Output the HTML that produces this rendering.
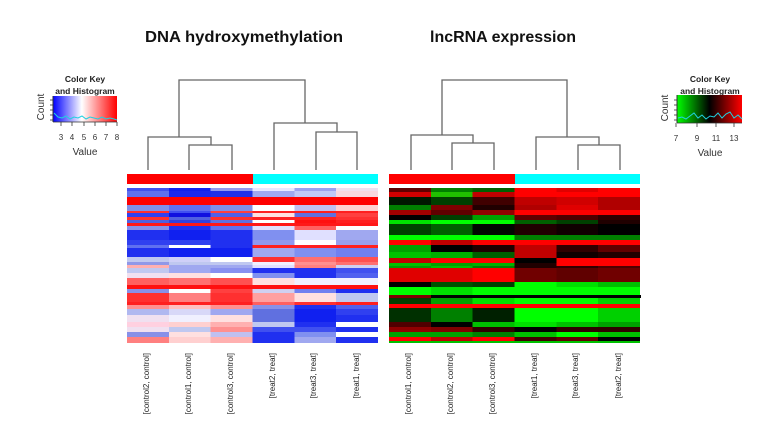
<!DOCTYPE html>
<html><head><meta charset="utf-8"><style>
html,body{margin:0;padding:0;background:#fff;}
svg{display:block;}
text{font-family:"Liberation Sans",Arial,sans-serif;}
</style></head><body>
<svg width="757" height="443" viewBox="0 0 757 443" xmlns="http://www.w3.org/2000/svg">
<defs>
<linearGradient id="bwr" x1="0" x2="1" y1="0" y2="0">
<stop offset="0" stop-color="#0000ff"/><stop offset="0.45" stop-color="#ffffff"/><stop offset="1" stop-color="#ff0000"/>
</linearGradient>
<linearGradient id="gkr" x1="0" x2="1" y1="0" y2="0">
<stop offset="0" stop-color="#00ff00"/><stop offset="0.5" stop-color="#000000"/><stop offset="1" stop-color="#ff0000"/>
</linearGradient>
</defs>
<rect width="757" height="443" fill="#fff"/>

<!-- Titles -->
<text x="145" y="42" font-size="16" font-weight="bold" fill="#111" textLength="198" lengthAdjust="spacingAndGlyphs">DNA hydroxymethylation</text>
<text x="430" y="42" font-size="16" font-weight="bold" fill="#111" textLength="146" lengthAdjust="spacingAndGlyphs">lncRNA expression</text>

<!-- Left color key -->
<text x="85" y="82" font-size="8.5" font-weight="bold" text-anchor="middle" fill="#222">Color Key</text>
<text x="85" y="94" font-size="8.5" font-weight="bold" text-anchor="middle" fill="#222">and Histogram</text>
<rect x="53" y="96" width="64" height="26" fill="url(#bwr)"/>
<polyline points="54,113 58,117 62,118 66,116 70,119 74,117 78,118 82,116 86,119 90,117 94,118 98,119 102,117 106,119 110,118 114,119 117,120" fill="none" stroke="#20d0e0" stroke-width="1"/>
<line x1="53" y1="96" x2="53" y2="122" stroke="#333" stroke-width="1"/>
<g stroke="#333" stroke-width="0.8">
<line x1="50" y1="100" x2="53" y2="100"/><line x1="50" y1="105" x2="53" y2="105"/><line x1="50" y1="110" x2="53" y2="110"/><line x1="50" y1="115" x2="53" y2="115"/><line x1="50" y1="120" x2="53" y2="120"/>
<line x1="61" y1="122" x2="61" y2="126"/><line x1="72" y1="122" x2="72" y2="126"/><line x1="84" y1="122" x2="84" y2="126"/><line x1="95" y1="122" x2="95" y2="126"/><line x1="106" y1="122" x2="106" y2="126"/><line x1="117" y1="122" x2="117" y2="126"/>
<line x1="53" y1="122" x2="117" y2="122"/>
</g>
<text transform="translate(44,107) rotate(-90)" font-size="10" text-anchor="middle" fill="#333">Count</text>
<g font-size="8" fill="#333" text-anchor="middle">
<text x="61" y="140">3</text><text x="72" y="140">4</text><text x="84" y="140">5</text><text x="95" y="140">6</text><text x="106" y="140">7</text><text x="117" y="140">8</text>
</g>
<text x="85" y="155" font-size="10" text-anchor="middle" fill="#333">Value</text>

<!-- Right color key -->
<text x="710" y="82" font-size="8.5" font-weight="bold" text-anchor="middle" fill="#222">Color Key</text>
<text x="710" y="94" font-size="8.5" font-weight="bold" text-anchor="middle" fill="#222">and Histogram</text>
<rect x="677" y="95" width="65" height="28" fill="url(#gkr)"/>
<polyline points="678,118 682,117 686,119 690,116 694,113 698,118 702,115 706,119 710,116 714,117 718,113 722,118 726,114 730,112 734,118 738,115 742,119" fill="none" stroke="#20d0e0" stroke-width="1"/>
<line x1="677" y1="95" x2="677" y2="123" stroke="#333" stroke-width="1"/>
<g stroke="#333" stroke-width="0.8">
<line x1="674" y1="100" x2="677" y2="100"/><line x1="674" y1="105" x2="677" y2="105"/><line x1="674" y1="110" x2="677" y2="110"/><line x1="674" y1="115" x2="677" y2="115"/><line x1="674" y1="120" x2="677" y2="120"/>
<line x1="677" y1="123" x2="742" y2="123"/>
<line x1="676" y1="123" x2="676" y2="127"/><line x1="697" y1="123" x2="697" y2="127"/><line x1="716" y1="123" x2="716" y2="127"/><line x1="734" y1="123" x2="734" y2="127"/>
</g>
<text transform="translate(668,108) rotate(-90)" font-size="10" text-anchor="middle" fill="#333">Count</text>
<g font-size="8" fill="#333" text-anchor="middle">
<text x="676" y="141">7</text><text x="697" y="141">9</text><text x="716" y="141">11</text><text x="734" y="141">13</text>
</g>
<text x="710" y="156" font-size="10" text-anchor="middle" fill="#333">Value</text>

<!-- Left dendrogram -->
<g fill="none" stroke="#666" stroke-width="1.3">
<polyline points="179,137 179,80 305,80 305,123"/>
<polyline points="148,170 148,137 211,137 211,145"/>
<polyline points="189,170 189,145 232,145 232,170"/>
<polyline points="274,170 274,123 337,123 337,132"/>
<polyline points="316,170 316,132 357,132 357,170"/>
</g>
<rect x="127" y="174" width="126" height="10" fill="#ff0000"/>
<rect x="253" y="174" width="125" height="10" fill="#00ffff"/>

<!-- Right dendrogram -->
<g fill="none" stroke="#666" stroke-width="1.3">
<polyline points="442,135 442,80 567,80 567,137"/>
<polyline points="411,170 411,135 473,135 473,143"/>
<polyline points="452,170 452,143 494,143 494,170"/>
<polyline points="536,170 536,137 599,137 599,145"/>
<polyline points="578,170 578,145 620,145 620,170"/>
</g>
<rect x="389" y="174" width="126" height="10" fill="#ff0000"/>
<rect x="515" y="174" width="125" height="10" fill="#00ffff"/>

<!-- Left heatmap -->
<g shape-rendering="crispEdges">
<g transform="translate(0,188)"><rect x="127" width="42" height="3" fill="#4050f0"/><rect x="168.8" width="42" height="3" fill="#1020f0"/><rect x="210.7" width="42" height="3" fill="#9098f0"/><rect x="252.5" width="42" height="3" fill="#e8e8ff"/><rect x="294.3" width="42" height="3" fill="#9aa0f0"/><rect x="336.2" width="42" height="3" fill="#f0e0f0"/></g>
<g transform="translate(0,191)"><rect x="127" width="42" height="6" fill="#6070f0"/><rect x="168.8" width="42" height="6" fill="#1a28f0"/><rect x="210.7" width="42" height="6" fill="#2030e8"/><rect x="252.5" width="42" height="6" fill="#a0a8f0"/><rect x="294.3" width="42" height="6" fill="#c0c8f8"/><rect x="336.2" width="42" height="6" fill="#f8d8e0"/></g>
<rect x="127" y="197" width="251" height="8" fill="#ff0000"/>
<g transform="translate(0,205)"><rect x="127" width="42" height="6" fill="#8090e8"/><rect x="168.8" width="42" height="6" fill="#6070f0"/><rect x="210.7" width="42" height="6" fill="#8090e8"/><rect x="252.5" width="42" height="6" fill="#ffffff"/><rect x="294.3" width="42" height="6" fill="#c0c0f0"/><rect x="336.2" width="42" height="6" fill="#ffd0d0"/></g>
<g transform="translate(0,211)"><rect x="127" width="42" height="2" fill="#ff3030"/><rect x="168.8" width="42" height="2" fill="#4050f0"/><rect x="210.7" width="42" height="2" fill="#ff4040"/><rect x="252.5" width="42" height="2" fill="#ff2020"/><rect x="294.3" width="42" height="2" fill="#ff2020"/><rect x="336.2" width="42" height="2" fill="#ff2020"/></g>
<g transform="translate(0,213)"><rect x="127" width="42" height="4" fill="#3040f0"/><rect x="168.8" width="42" height="4" fill="#1010e0"/><rect x="210.7" width="42" height="4" fill="#5060e8"/><rect x="252.5" width="42" height="4" fill="#ffe0e0"/><rect x="294.3" width="42" height="4" fill="#6070e0"/><rect x="336.2" width="42" height="4" fill="#ff4040"/></g>
<g transform="translate(0,217)"><rect x="127" width="42" height="3" fill="#ff3030"/><rect x="168.8" width="42" height="3" fill="#5060e0"/><rect x="210.7" width="42" height="3" fill="#ff3030"/><rect x="252.5" width="42" height="3" fill="#ff2020"/><rect x="294.3" width="42" height="3" fill="#ff2020"/><rect x="336.2" width="42" height="3" fill="#ff3030"/></g>
<g transform="translate(0,220)"><rect x="127" width="42" height="3" fill="#5060e0"/><rect x="168.8" width="42" height="3" fill="#3040e0"/><rect x="210.7" width="42" height="3" fill="#6070e0"/><rect x="252.5" width="42" height="3" fill="#ffffff"/><rect x="294.3" width="42" height="3" fill="#ff1010"/><rect x="336.2" width="42" height="3" fill="#ff2020"/></g>
<rect x="127" y="223" width="251" height="3" fill="#ff1818"/>
<g transform="translate(0,226)"><rect x="127" width="42" height="4" fill="#8890e8"/><rect x="168.8" width="42" height="4" fill="#2030f0"/><rect x="210.7" width="42" height="4" fill="#6070f0"/><rect x="252.5" width="42" height="4" fill="#e0e0ff"/><rect x="294.3" width="42" height="4" fill="#ff6060"/><rect x="336.2" width="42" height="4" fill="#ffffff"/></g>
<g transform="translate(0,230)"><rect x="127" width="42" height="10" fill="#2030f0"/><rect x="168.8" width="42" height="10" fill="#1020f0"/><rect x="210.7" width="42" height="10" fill="#2030f0"/><rect x="252.5" width="42" height="10" fill="#8090f0"/><rect x="294.3" width="42" height="10" fill="#e0e0ff"/><rect x="336.2" width="42" height="10" fill="#a0a8f0"/></g>
<g transform="translate(0,240)"><rect x="127" width="42" height="5" fill="#3040f0"/><rect x="168.8" width="42" height="5" fill="#3040f0"/><rect x="210.7" width="42" height="5" fill="#2030f0"/><rect x="252.5" width="42" height="5" fill="#9098f0"/><rect x="294.3" width="42" height="5" fill="#ffffff"/><rect x="336.2" width="42" height="5" fill="#98a0f0"/></g>
<g transform="translate(0,245)"><rect x="127" width="42" height="3" fill="#6070f0"/><rect x="168.8" width="42" height="3" fill="#ffffff"/><rect x="210.7" width="42" height="3" fill="#2030f0"/><rect x="252.5" width="42" height="3" fill="#ff2020"/><rect x="294.3" width="42" height="3" fill="#ff2020"/><rect x="336.2" width="42" height="3" fill="#ff2020"/></g>
<g transform="translate(0,248)"><rect x="127" width="42" height="9" fill="#2030f0"/><rect x="168.8" width="42" height="9" fill="#1020f0"/><rect x="210.7" width="42" height="9" fill="#1020f0"/><rect x="252.5" width="42" height="9" fill="#a0a8f0"/><rect x="294.3" width="42" height="9" fill="#8090f0"/><rect x="336.2" width="42" height="9" fill="#7080f0"/></g>
<g transform="translate(0,257)"><rect x="127" width="42" height="5" fill="#c0c8f0"/><rect x="168.8" width="42" height="5" fill="#d0d0f8"/><rect x="210.7" width="42" height="5" fill="#ffffff"/><rect x="252.5" width="42" height="5" fill="#ff3030"/><rect x="294.3" width="42" height="5" fill="#ff7070"/><rect x="336.2" width="42" height="5" fill="#ff5050"/></g>
<g transform="translate(0,262)"><rect x="127" width="42" height="3" fill="#9098e8"/><rect x="168.8" width="42" height="3" fill="#c0c8f0"/><rect x="210.7" width="42" height="3" fill="#c0c8f0"/><rect x="252.5" width="42" height="3" fill="#f0f0ff"/><rect x="294.3" width="42" height="3" fill="#ff9090"/><rect x="336.2" width="42" height="3" fill="#ff7070"/></g>
<g transform="translate(0,265)"><rect x="127" width="42" height="3" fill="#ffb0b0"/><rect x="168.8" width="42" height="3" fill="#a0a8f0"/><rect x="210.7" width="42" height="3" fill="#a0a8f0"/><rect x="252.5" width="42" height="3" fill="#e0e0ff"/><rect x="294.3" width="42" height="3" fill="#ff8080"/><rect x="336.2" width="42" height="3" fill="#d0d0f0"/></g>
<g transform="translate(0,268)"><rect x="127" width="42" height="5" fill="#c0c8f0"/><rect x="168.8" width="42" height="5" fill="#a0a8f0"/><rect x="210.7" width="42" height="5" fill="#8890f0"/><rect x="252.5" width="42" height="5" fill="#2030f0"/><rect x="294.3" width="42" height="5" fill="#2030f0"/><rect x="336.2" width="42" height="5" fill="#4050f0"/></g>
<g transform="translate(0,273)"><rect x="127" width="42" height="5" fill="#f0e0f0"/><rect x="168.8" width="42" height="5" fill="#ffe0e0"/><rect x="210.7" width="42" height="5" fill="#ffffff"/><rect x="252.5" width="42" height="5" fill="#8090f0"/><rect x="294.3" width="42" height="5" fill="#2030f0"/><rect x="336.2" width="42" height="5" fill="#5060f0"/></g>
<g transform="translate(0,278)"><rect x="127" width="42" height="7" fill="#ff6060"/><rect x="168.8" width="42" height="7" fill="#ff7070"/><rect x="210.7" width="42" height="7" fill="#ff5050"/><rect x="252.5" width="42" height="7" fill="#ffe0e0"/><rect x="294.3" width="42" height="7" fill="#f0f0ff"/><rect x="336.2" width="42" height="7" fill="#f0f0ff"/></g>
<rect x="127" y="285" width="251" height="4" fill="#ff1010"/>
<g transform="translate(0,289)"><rect x="127" width="42" height="4" fill="#8890e8"/><rect x="168.8" width="42" height="4" fill="#ffffff"/><rect x="210.7" width="42" height="4" fill="#ff4040"/><rect x="252.5" width="42" height="4" fill="#d0d0f0"/><rect x="294.3" width="42" height="4" fill="#7080f0"/><rect x="336.2" width="42" height="4" fill="#2030f0"/></g>
<g transform="translate(0,293)"><rect x="127" width="42" height="9" fill="#ff3030"/><rect x="168.8" width="42" height="9" fill="#ff8080"/><rect x="210.7" width="42" height="9" fill="#ff3030"/><rect x="252.5" width="42" height="9" fill="#ffa0a0"/><rect x="294.3" width="42" height="9" fill="#ffe0e0"/><rect x="336.2" width="42" height="9" fill="#c0c8f0"/></g>
<g transform="translate(0,302)"><rect x="127" width="42" height="3" fill="#ff2020"/><rect x="168.8" width="42" height="3" fill="#ff2020"/><rect x="210.7" width="42" height="3" fill="#ff2020"/><rect x="252.5" width="42" height="3" fill="#ff6060"/><rect x="294.3" width="42" height="3" fill="#ff3030"/><rect x="336.2" width="42" height="3" fill="#ff2020"/></g>
<g transform="translate(0,305)"><rect x="127" width="42" height="4" fill="#ff9090"/><rect x="168.8" width="42" height="4" fill="#ffc0c0"/><rect x="210.7" width="42" height="4" fill="#ff9090"/><rect x="252.5" width="42" height="4" fill="#8890e8"/><rect x="294.3" width="42" height="4" fill="#2030f0"/><rect x="336.2" width="42" height="4" fill="#5060f0"/></g>
<g transform="translate(0,309)"><rect x="127" width="42" height="6" fill="#b0b8f0"/><rect x="168.8" width="42" height="6" fill="#d8d8f8"/><rect x="210.7" width="42" height="6" fill="#a0a8f0"/><rect x="252.5" width="42" height="6" fill="#6070e0"/><rect x="294.3" width="42" height="6" fill="#1020f0"/><rect x="336.2" width="42" height="6" fill="#3040f0"/></g>
<g transform="translate(0,315)"><rect x="127" width="42" height="7" fill="#f0e0f0"/><rect x="168.8" width="42" height="7" fill="#f0f0ff"/><rect x="210.7" width="42" height="7" fill="#ffe0e0"/><rect x="252.5" width="42" height="7" fill="#6070e0"/><rect x="294.3" width="42" height="7" fill="#1020f0"/><rect x="336.2" width="42" height="7" fill="#2030f0"/></g>
<g transform="translate(0,322)"><rect x="127" width="42" height="5" fill="#ffd0e0"/><rect x="168.8" width="42" height="5" fill="#ffd0d0"/><rect x="210.7" width="42" height="5" fill="#ffb0b0"/><rect x="252.5" width="42" height="5" fill="#c0c8f0"/><rect x="294.3" width="42" height="5" fill="#2030f0"/><rect x="336.2" width="42" height="5" fill="#ffffff"/></g>
<g transform="translate(0,327)"><rect x="127" width="42" height="5" fill="#f0e0f0"/><rect x="168.8" width="42" height="5" fill="#c0c8f0"/><rect x="210.7" width="42" height="5" fill="#ff9090"/><rect x="252.5" width="42" height="5" fill="#4050f0"/><rect x="294.3" width="42" height="5" fill="#4050f0"/><rect x="336.2" width="42" height="5" fill="#2030f0"/></g>
<g transform="translate(0,332)"><rect x="127" width="42" height="5" fill="#8890e8"/><rect x="168.8" width="42" height="5" fill="#ffe0e0"/><rect x="210.7" width="42" height="5" fill="#c0c0f0"/><rect x="252.5" width="42" height="5" fill="#2030f0"/><rect x="294.3" width="42" height="5" fill="#8090f0"/><rect x="336.2" width="42" height="5" fill="#ffffff"/></g>
<g transform="translate(0,337)"><rect x="127" width="42" height="6" fill="#ff8080"/><rect x="168.8" width="42" height="6" fill="#ffd0d0"/><rect x="210.7" width="42" height="6" fill="#ffb0b0"/><rect x="252.5" width="42" height="6" fill="#2030f0"/><rect x="294.3" width="42" height="6" fill="#a0a8f0"/><rect x="336.2" width="41.8" height="6" fill="#2030f0"/></g>
</g>

<!-- Right heatmap -->
<g shape-rendering="crispEdges">
<g transform="translate(0,188)"><rect x="389" width="42" height="4" fill="#600000"/><rect x="430.8" width="42" height="4" fill="#008000"/><rect x="472.7" width="42" height="4" fill="#006000"/><rect x="514.5" width="42" height="4" fill="#ff0000"/><rect x="556.3" width="42" height="4" fill="#e00000"/><rect x="598.2" width="42" height="4" fill="#ff0000"/></g>
<g transform="translate(0,192)"><rect x="389" width="42" height="5" fill="#d00000"/><rect x="430.8" width="42" height="5" fill="#20c000"/><rect x="472.7" width="42" height="5" fill="#c00000"/><rect x="514.5" width="42" height="5" fill="#ff0000"/><rect x="556.3" width="42" height="5" fill="#ff0000"/><rect x="598.2" width="42" height="5" fill="#ff0000"/></g>
<g transform="translate(0,197)"><rect x="389" width="42" height="8" fill="#001800"/><rect x="430.8" width="42" height="8" fill="#004000"/><rect x="472.7" width="42" height="8" fill="#400000"/><rect x="514.5" width="42" height="8" fill="#c00000"/><rect x="556.3" width="42" height="8" fill="#d00000"/><rect x="598.2" width="42" height="8" fill="#b00000"/></g>
<g transform="translate(0,205)"><rect x="389" width="42" height="5" fill="#008000"/><rect x="430.8" width="42" height="5" fill="#800000"/><rect x="472.7" width="42" height="5" fill="#200000"/><rect x="514.5" width="42" height="5" fill="#b00000"/><rect x="556.3" width="42" height="5" fill="#e00000"/><rect x="598.2" width="42" height="5" fill="#b00000"/></g>
<g transform="translate(0,210)"><rect x="389" width="42" height="5" fill="#a00000"/><rect x="430.8" width="42" height="5" fill="#600000"/><rect x="472.7" width="42" height="5" fill="#900000"/><rect x="514.5" width="42" height="5" fill="#ff0000"/><rect x="556.3" width="42" height="5" fill="#ff0000"/><rect x="598.2" width="42" height="5" fill="#ff0000"/></g>
<g transform="translate(0,215)"><rect x="389" width="42" height="5" fill="#000000"/><rect x="430.8" width="42" height="5" fill="#004000"/><rect x="472.7" width="42" height="5" fill="#00a000"/><rect x="514.5" width="42" height="5" fill="#600000"/><rect x="556.3" width="42" height="5" fill="#500000"/><rect x="598.2" width="42" height="5" fill="#300000"/></g>
<g transform="translate(0,220)"><rect x="389" width="42" height="4" fill="#00e000"/><rect x="430.8" width="42" height="4" fill="#00ff00"/><rect x="472.7" width="42" height="4" fill="#00ff00"/><rect x="514.5" width="42" height="4" fill="#006000"/><rect x="556.3" width="42" height="4" fill="#004000"/><rect x="598.2" width="42" height="4" fill="#200000"/></g>
<g transform="translate(0,224)"><rect x="389" width="42" height="11" fill="#004000"/><rect x="430.8" width="42" height="11" fill="#006000"/><rect x="472.7" width="42" height="11" fill="#000800"/><rect x="514.5" width="42" height="11" fill="#200000"/><rect x="556.3" width="42" height="11" fill="#100000"/><rect x="598.2" width="42" height="11" fill="#000000"/></g>
<g transform="translate(0,235)"><rect x="389" width="42" height="5" fill="#00ff00"/><rect x="430.8" width="42" height="5" fill="#00ff00"/><rect x="472.7" width="42" height="5" fill="#00ff00"/><rect x="514.5" width="42" height="5" fill="#008000"/><rect x="556.3" width="42" height="5" fill="#008000"/><rect x="598.2" width="42" height="5" fill="#008000"/></g>
<g transform="translate(0,240)"><rect x="389" width="42" height="5" fill="#ff0000"/><rect x="430.8" width="42" height="5" fill="#c00000"/><rect x="472.7" width="42" height="5" fill="#ff0000"/><rect x="514.5" width="42" height="5" fill="#ff0000"/><rect x="556.3" width="42" height="5" fill="#ff0000"/><rect x="598.2" width="42" height="5" fill="#ff0000"/></g>
<g transform="translate(0,245)"><rect x="389" width="42" height="7" fill="#00a000"/><rect x="430.8" width="42" height="7" fill="#000000"/><rect x="472.7" width="42" height="7" fill="#200000"/><rect x="514.5" width="42" height="7" fill="#c00000"/><rect x="556.3" width="42" height="7" fill="#300000"/><rect x="598.2" width="42" height="7" fill="#600000"/></g>
<g transform="translate(0,252)"><rect x="389" width="42" height="6" fill="#00c000"/><rect x="430.8" width="42" height="6" fill="#00b000"/><rect x="472.7" width="42" height="6" fill="#006000"/><rect x="514.5" width="42" height="6" fill="#c00000"/><rect x="556.3" width="42" height="6" fill="#100000"/><rect x="598.2" width="42" height="6" fill="#200000"/></g>
<g transform="translate(0,258)"><rect x="389" width="42" height="5" fill="#c00000"/><rect x="430.8" width="42" height="5" fill="#ff0000"/><rect x="472.7" width="42" height="5" fill="#ff0000"/><rect x="514.5" width="42" height="5" fill="#000000"/><rect x="556.3" width="42" height="5" fill="#ff0000"/><rect x="598.2" width="42" height="5" fill="#ff0000"/></g>
<g transform="translate(0,263)"><rect x="389" width="42" height="3" fill="#00c000"/><rect x="430.8" width="42" height="3" fill="#00a000"/><rect x="472.7" width="42" height="3" fill="#00b000"/><rect x="514.5" width="42" height="3" fill="#200000"/><rect x="556.3" width="42" height="3" fill="#ff0000"/><rect x="598.2" width="42" height="3" fill="#ff0000"/></g>
<g transform="translate(0,266)"><rect x="389" width="42" height="2" fill="#00a000"/><rect x="430.8" width="42" height="2" fill="#00c000"/><rect x="472.7" width="42" height="2" fill="#008000"/><rect x="514.5" width="42" height="2" fill="#200000"/><rect x="556.3" width="42" height="2" fill="#300000"/><rect x="598.2" width="42" height="2" fill="#500000"/></g>
<g transform="translate(0,268)"><rect x="389" width="42" height="14" fill="#e00000"/><rect x="430.8" width="42" height="14" fill="#e00000"/><rect x="472.7" width="42" height="14" fill="#ff0000"/><rect x="514.5" width="42" height="14" fill="#700000"/><rect x="556.3" width="42" height="14" fill="#600000"/><rect x="598.2" width="42" height="14" fill="#700000"/></g>
<g transform="translate(0,282)"><rect x="389" width="42" height="5" fill="#000000"/><rect x="430.8" width="42" height="5" fill="#005000"/><rect x="472.7" width="42" height="5" fill="#004000"/><rect x="514.5" width="42" height="5" fill="#00ff00"/><rect x="556.3" width="42" height="5" fill="#00e000"/><rect x="598.2" width="42" height="5" fill="#00c000"/></g>
<g transform="translate(0,287)"><rect x="389" width="42" height="8" fill="#00ff00"/><rect x="430.8" width="42" height="8" fill="#00e000"/><rect x="472.7" width="42" height="8" fill="#00ff00"/><rect x="514.5" width="42" height="8" fill="#00ff00"/><rect x="556.3" width="42" height="8" fill="#00ff00"/><rect x="598.2" width="42" height="8" fill="#00ff00"/></g>
<g transform="translate(0,295)"><rect x="389" width="42" height="3" fill="#800000"/><rect x="430.8" width="210" height="3" fill="#000000"/></g>
<g transform="translate(0,298)"><rect x="389" width="42" height="6" fill="#004000"/><rect x="430.8" width="42" height="6" fill="#00a000"/><rect x="472.7" width="42" height="6" fill="#00e000"/><rect x="514.5" width="42" height="6" fill="#00ff00"/><rect x="556.3" width="42" height="6" fill="#00ff00"/><rect x="598.2" width="42" height="6" fill="#00d000"/></g>
<rect x="389" y="304" width="251" height="4" fill="#ff0000"/>
<g transform="translate(0,308)"><rect x="389" width="42" height="14" fill="#003000"/><rect x="430.8" width="42" height="14" fill="#008000"/><rect x="472.7" width="42" height="14" fill="#002000"/><rect x="514.5" width="42" height="14" fill="#00ff00"/><rect x="556.3" width="42" height="14" fill="#00ff00"/><rect x="598.2" width="42" height="14" fill="#00d000"/></g>
<g transform="translate(0,322)"><rect x="389" width="42" height="5" fill="#500000"/><rect x="430.8" width="42" height="5" fill="#000000"/><rect x="472.7" width="42" height="5" fill="#00c000"/><rect x="514.5" width="42" height="5" fill="#00e000"/><rect x="556.3" width="42" height="5" fill="#00c000"/><rect x="598.2" width="42" height="5" fill="#00a000"/></g>
<g transform="translate(0,327)"><rect x="389" width="42" height="5" fill="#900000"/><rect x="430.8" width="42" height="5" fill="#800000"/><rect x="472.7" width="42" height="5" fill="#300000"/><rect x="514.5" width="42" height="5" fill="#000000"/><rect x="556.3" width="42" height="5" fill="#300000"/><rect x="598.2" width="42" height="5" fill="#300000"/></g>
<g transform="translate(0,332)"><rect x="389" width="42" height="5" fill="#00a000"/><rect x="430.8" width="42" height="5" fill="#00a000"/><rect x="472.7" width="42" height="5" fill="#008000"/><rect x="514.5" width="42" height="5" fill="#00c000"/><rect x="556.3" width="42" height="5" fill="#00ff00"/><rect x="598.2" width="42" height="5" fill="#00c000"/></g>
<g transform="translate(0,337)"><rect x="389" width="42" height="4" fill="#ff0000"/><rect x="430.8" width="42" height="4" fill="#c00000"/><rect x="472.7" width="42" height="4" fill="#ff0000"/><rect x="514.5" width="42" height="4" fill="#400000"/><rect x="556.3" width="42" height="4" fill="#600000"/><rect x="598.2" width="42" height="4" fill="#000000"/></g>
<rect x="389" y="341" width="251" height="2" fill="#00c000"/>
</g>

<!-- Column labels -->
<g font-size="8" fill="#222" text-anchor="end">
<text transform="translate(149,353) rotate(-90)">[control2, control]</text>
<text transform="translate(191,353) rotate(-90)">[control1, control]</text>
<text transform="translate(233,353) rotate(-90)">[control3, control]</text>
<text transform="translate(275,353) rotate(-90)">[treat2, treat]</text>
<text transform="translate(316,353) rotate(-90)">[treat3, treat]</text>
<text transform="translate(359,353) rotate(-90)">[treat1, treat]</text>
<text transform="translate(411,353) rotate(-90)">[control1, control]</text>
<text transform="translate(453,353) rotate(-90)">[control2, control]</text>
<text transform="translate(495,353) rotate(-90)">[control3, control]</text>
<text transform="translate(537,353) rotate(-90)">[treat1, treat]</text>
<text transform="translate(578,353) rotate(-90)">[treat3, treat]</text>
<text transform="translate(621,353) rotate(-90)">[treat2, treat]</text>
</g>
</svg>
</body></html>
